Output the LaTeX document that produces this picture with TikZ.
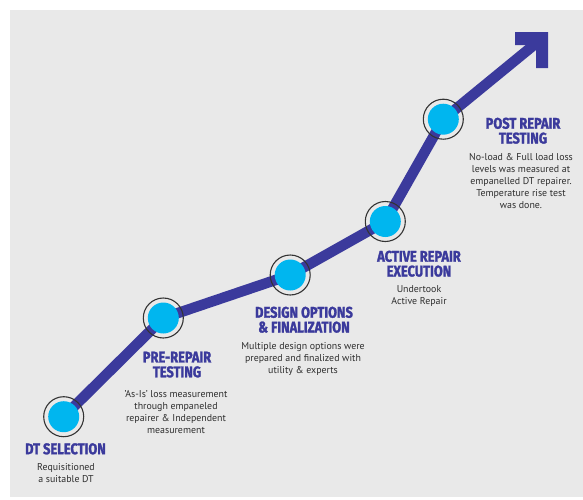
\documentclass[tikz,border=0pt]{standalone}
\usepackage{fontspec}
\setmainfont{PT Sans}
\newfontfamily\titlefont[FakeStretch=0.83, FakeBold=1.6]{Fira Sans}
\definecolor{panel}{HTML}{E9E9E9}
\definecolor{track}{HTML}{3B3A9C}
\definecolor{dot}{HTML}{00B6EF}
\definecolor{ringc}{HTML}{333333}
\definecolor{bodyc}{HTML}{2E2E2E}
\tikzset{
  stage/.style={circle, fill=dot, minimum size=31pt, inner sep=0pt},
  halo/.style={circle, draw=ringc, line width=1.1pt, minimum size=40pt, inner sep=0pt},
  heading/.style={anchor=north, inner sep=0pt, align=center, text=track,
    font=\titlefont\bfseries\fontsize{15.5}{14.8}\selectfont},
  blurb/.style={anchor=north, inner sep=0pt, align=center, text=bodyc,
    font=\fontsize{9.9}{12}\selectfont},
  trackline/.style={draw=track, line width=10.5pt}
}
\begin{document}
\begin{tikzpicture}[x=1pt, y=-1pt]
  \useasboundingbox (0,0) rectangle (583,499);
  \fill[white] (0,0) rectangle (583,499);
  \fill[panel] (10,10) rectangle (583,497);

  % stage positions
  \coordinate (p1) at (63.7,416.7);
  \coordinate (p2) at (163.3,318);
  \coordinate (p3) at (290.2,275);
  \coordinate (p4) at (385.3,221.5);
  \coordinate (p5) at (443.3,119.2);
  \coordinate (tip) at (540,40);

  % rising track and arrow head
  \draw[trackline] (p1) -- (p2) -- (p3) -- (p4) -- (p5) -- (tip);
  \fill[track] (515,32) -- (548,32) -- (548,68) -- (536,68) -- (536,45) -- (515,45) -- cycle;

  % stage markers
  \foreach \p in {p1,p2,p3,p4,p5} {
    \node[halo] (h\p) at (\p) {};
    \node[stage] (s\p) at (\p) {};
  }

  % labels
  \node[heading] (t1) at (65.5,443) {DT SELECTION};
  \node[blurb] (b1) at (66,463.5) {Requisitioned\\a suitable DT};

  \node[heading] (t2) at (177,351.5) {PRE-REPAIR\\TESTING};
  \node[blurb] (b2) at (176,390.5) {'As-Is' loss measurement\\through empaneled\\repairer \& Independent\\measurement};

  \node[heading] (t3) at (304,306.5) {DESIGN OPTIONS\\\& FINALIZATION};
  \node[blurb] (b3) at (303,342.5) {Multiple design options were\\prepared and finalized with\\utility \& experts};

  \node[heading] (t4) at (419,250.5) {ACTIVE REPAIR\\EXECUTION};
  \node[blurb] (b4) at (419,285.5) {Undertook\\Active Repair};

  \node[heading] (t5) at (523,117.5) {POST REPAIR\\TESTING};
  \node[blurb] (b5) at (521,153.5) {No-load \& Full load loss\\levels was measured at\\empanelled DT repairer.\\Temperature rise test\\was done.};
\end{tikzpicture}
\end{document}
